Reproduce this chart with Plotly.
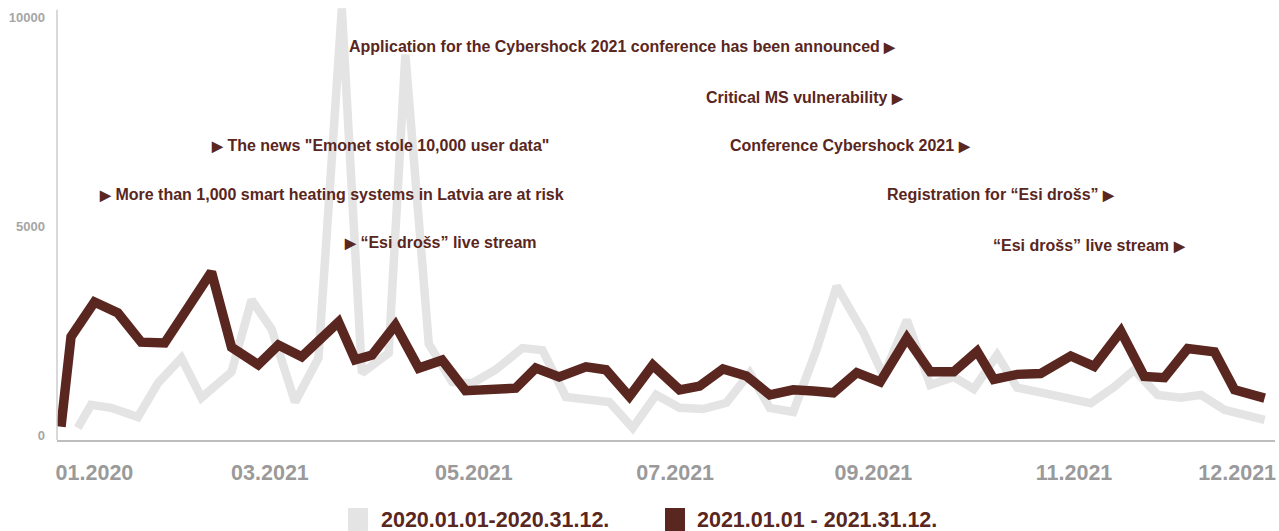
import plotly.graph_objects as go

# Weekly mention counts, 2021 (dark line)
dates_2021 = [
    "2021-01-01", "2021-01-04", "2021-01-11", "2021-01-18", "2021-01-25", "2021-02-01",
    "2021-02-08", "2021-02-15", "2021-02-21", "2021-03-01", "2021-03-07", "2021-03-14",
    "2021-03-25", "2021-03-30", "2021-04-04", "2021-04-11", "2021-04-18", "2021-04-25",
    "2021-05-02", "2021-05-10", "2021-05-17", "2021-05-23", "2021-05-30", "2021-06-07",
    "2021-06-13", "2021-06-20", "2021-06-27", "2021-07-05", "2021-07-11", "2021-07-18",
    "2021-07-25", "2021-08-01", "2021-08-08", "2021-08-14", "2021-08-20", "2021-08-27",
    "2021-09-03", "2021-09-11", "2021-09-18", "2021-09-25", "2021-10-02", "2021-10-07",
    "2021-10-14", "2021-10-21", "2021-10-30", "2021-11-06", "2021-11-14", "2021-11-21",
    "2021-11-27", "2021-12-04", "2021-12-12", "2021-12-18", "2021-12-27",
]
values_2021 = [
    200, 2350, 3180, 2920, 2220, 2200,
    3050, 3900, 2100, 1680, 2150, 1870,
    2700, 1800, 1910, 2630, 1600, 1790,
    1060, 1080, 1120, 1600, 1390, 1630,
    1560, 920, 1670, 1080, 1170, 1580,
    1410, 960, 1080, 1050, 1010, 1490,
    1270, 2320, 1510, 1510, 2000, 1330,
    1450, 1470, 1890, 1640, 2480, 1400,
    1370, 2070, 1990, 1080, 880,
]

# Weekly mention counts, 2020, placed on the same day-of-year (light line)
dates_2020_on_2021 = [
    "2021-01-06", "2021-01-10", "2021-01-16", "2021-01-24", "2021-01-30", "2021-02-06",
    "2021-02-12", "2021-02-21", "2021-02-27", "2021-03-05", "2021-03-12", "2021-03-19",
    "2021-03-26", "2021-04-01", "2021-04-09", "2021-04-14", "2021-04-21", "2021-04-28",
    "2021-05-04", "2021-05-11", "2021-05-19", "2021-05-25", "2021-06-01", "2021-06-08",
    "2021-06-14", "2021-06-21", "2021-06-28", "2021-07-05", "2021-07-12", "2021-07-19",
    "2021-07-26", "2021-08-01", "2021-08-08", "2021-08-15", "2021-08-21", "2021-08-29",
    "2021-09-04", "2021-09-11", "2021-09-18", "2021-09-25", "2021-10-01", "2021-10-08",
    "2021-10-14", "2021-10-22", "2021-10-29", "2021-11-05", "2021-11-12", "2021-11-18",
    "2021-11-25", "2021-12-02", "2021-12-08", "2021-12-15", "2021-12-27",
]
values_2020 = [
    170, 720, 650, 430, 1240, 1840,
    890, 1510, 3230, 2530, 790, 1840,
    10200, 1480, 1960, 9100, 2180, 1270,
    1240, 1560, 2080, 2030, 910, 850,
    790, 170, 960, 650, 620, 770,
    1480, 650, 550, 2050, 3560, 2450,
    1420, 2750, 1200, 1390, 1100, 1910,
    1130, 1000, 880, 760, 1150, 1560,
    960, 890, 960, 600, 360,
]

series_names = ["2020.01.01-2020.31.12.", "2021.01.01 - 2021.31.12."]

tick_dates = ["2021-01-11", "2021-03-04 12:00", "2021-05-04 12:00", "2021-07-03 17:00",
              "2021-09-01", "2021-10-31", "2021-12-18 19:00"]
tick_labels = ["01.2020", "03.2021", "05.2021", "07.2021", "09.2021", "11.2021", "12.2021"]
y_ticks = [0, 5000, 10000]
y_labels = ["0", "5000", "10000"]

# Event notes: (text, arrow side, x paper, y paper)
events = [
    ("Application for the Cybershock 2021 conference has been announced", "right", 0.6905, 0.8995),
    ("Critical MS vulnerability", "right", 0.697, 0.7831),
    ("The news \"Emonet stole 10,000 user data\"", "left", 0.1248, 0.6735),
    ("Conference Cybershock 2021", "right", 0.752, 0.6735),
    ("More than 1,000 smart heating systems in Latvia are at risk", "left", 0.0328, 0.5616),
    ("Registration for “Esi drošs”", "right", 0.8703, 0.5594),
    ("“Esi drošs” live stream", "left", 0.234, 0.452),
    ("“Esi drošs” live stream", "right", 0.9286, 0.4452),
]

BROWN = "#5a2620"
LIGHT = "#e4e4e4"
TICK_GREY = "#9a9a9a"
FONT = "Liberation Sans, Arial, sans-serif"

fig = go.Figure()
fig.add_trace(go.Scatter(
    x=dates_2020_on_2021, y=values_2020, mode="lines", name=series_names[0],
    line=dict(color=LIGHT, width=8.5), showlegend=False,
))
fig.add_trace(go.Scatter(
    x=dates_2021, y=values_2021, mode="lines", name=series_names[1],
    line=dict(color=BROWN, width=9.5), showlegend=False,
))

arrow = "<span style='font-size:14px'>▶</span>"
annotations = []
for text, side, xp, yp in events:
    label = f"{text} {arrow}" if side == "right" else f"{arrow} {text}"
    annotations.append(dict(
        text=label, x=xp, y=yp, xref="paper", yref="paper",
        xanchor="right" if side == "right" else "left", yanchor="middle",
        showarrow=False, font=dict(family=FONT, size=16, color=BROWN, weight=700),
    ))

# Legend drawn as colour blocks with labels under the axis
legend_items = [(series_names[0], LIGHT, 0.2389, 0.2553, 0.2644),
                (series_names[1], BROWN, 0.4992, 0.5156, 0.5238)]
shapes = []
for name, color, x0, x1, xt in legend_items:
    shapes.append(dict(type="rect", xref="paper", yref="paper", x0=x0, x1=x1,
                       y0=-0.2169, y1=-0.1553, fillcolor=color, line=dict(width=0)))
    annotations.append(dict(
        text=name, x=xt, y=-0.1826, xref="paper", yref="paper",
        xanchor="left", yanchor="middle", showarrow=False,
        font=dict(family=FONT, size=21.5, color=BROWN, weight=700),
    ))

# Vertical axis line
shapes.append(dict(type="line", xref="paper", yref="y", x0=0, x1=0, y0=-120, y1=10170,
                   line=dict(color="#cccccc", width=1.5)))

fig.update_layout(
    width=1279, height=531,
    margin=dict(l=57, r=4, t=2, b=91),
    paper_bgcolor="white", plot_bgcolor="white",
    annotations=annotations, shapes=shapes,
    xaxis=dict(
        type="date", range=["2020-12-30 19:16", "2021-12-30 02:24"],
        tickvals=tick_dates, ticktext=tick_labels,
        showgrid=False, zeroline=False, showline=True, linecolor="#bdbdbd", linewidth=1.5,
        ticks="", ticklabelstandoff=12, automargin=False,
        tickfont=dict(family=FONT, size=21.5, color=TICK_GREY, weight=700),
    ),
    yaxis=dict(
        range=[-120, 10358], tickvals=y_ticks, ticktext=y_labels,
        showgrid=False, zeroline=False, showline=False,
        ticks="", ticklabelstandoff=11, automargin=False,
        tickfont=dict(family=FONT, size=13, color="#a6a6a6", weight=700),
    ),
    showlegend=False,
)

fig.write_html("out.html")
